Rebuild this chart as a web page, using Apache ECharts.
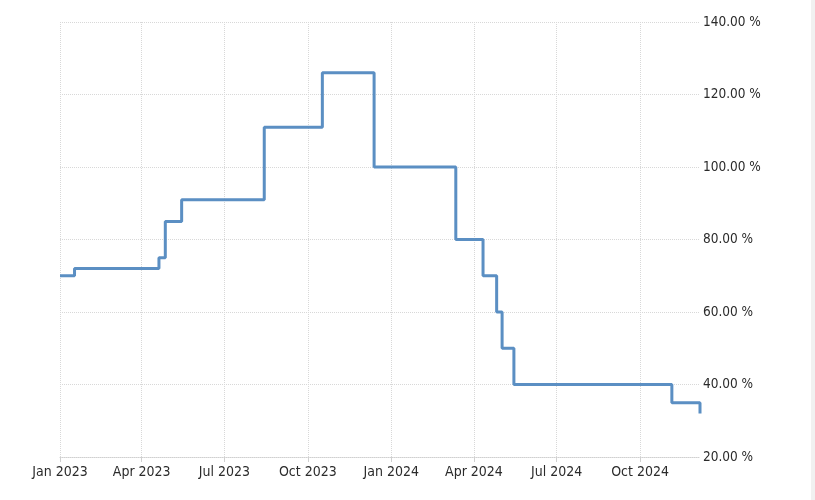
<!DOCTYPE html>
<html>
<head>
<meta charset="utf-8">
<script src="https://cdn.jsdelivr.net/npm/echarts@6/dist/echarts.min.js"></script>
<style>html,body{margin:0;padding:0;background:#fff;}#c{width:815px;height:500px;}</style>
</head>
<body>
<div id="c"></div>
<script>
// Dates on which the rate changed, and the new rate (%)
const changeDates = ['2023-01-01','2023-01-17','2023-04-20','2023-04-27','2023-05-15','2023-08-14','2023-10-17','2023-12-13','2024-03-12','2024-04-11','2024-04-26','2024-05-02','2024-05-15','2024-11-05','2024-12-06'];
const rates = [70, 72, 75, 85, 91, 111, 126, 100, 80, 70, 60, 50, 40, 35, 32];
const tickDates = ['2023-01-01','2023-04-01','2023-07-01','2023-10-01','2024-01-01','2024-04-01','2024-07-01','2024-10-01'];
const tickLabels = ['Jan 2023','Apr 2023','Jul 2023','Oct 2023','Jan 2024','Apr 2024','Jul 2024','Oct 2024'];

const ts = s => Date.parse(s + 'T00:00:00Z');
const tickTs = tickDates.map(ts);
const labelMap = {};
tickTs.forEach((t, i) => labelMap[t] = tickLabels[i]);

const chart = echarts.init(document.getElementById('c'), null, {renderer: 'canvas'});
const font = '"DejaVu Sans Condensed", "DejaVu Sans", sans-serif';
chart.setOption({
  animation: false,
  backgroundColor: '#fff',
  graphic: [{
    type: 'rect', left: 811, top: 0,
    shape: {width: 4, height: 500},
    style: {fill: '#f1f1f1'}, silent: true
  }],
  grid: {left: 60, right: 115, top: 22, bottom: 43, containLabel: false},
  xAxis: {
    type: 'value',
    min: ts(changeDates[0]),
    max: ts(changeDates[changeDates.length - 1]),
    axisLine: {show: true, lineStyle: {color: '#d0d0d0', type: 'dotted', width: 1}},
    axisTick: {show: true, customValues: tickTs, length: 5, lineStyle: {color: '#d0d0d0'}},
    axisLabel: {
      customValues: tickTs,
      formatter: v => labelMap[v] || '',
      color: '#2b2b2b', fontFamily: font, fontSize: 14, margin: 8
    },
    splitLine: {show: true, lineStyle: {color: '#d8d8d8', type: 'dotted', width: 1}}
  },
  yAxis: {
    type: 'value',
    position: 'right',
    min: 20, max: 140, interval: 20,
    axisLine: {show: false},
    axisTick: {show: false},
    axisLabel: {
      formatter: v => v.toFixed(2) + ' %',
      color: '#2b2b2b', fontFamily: font, fontSize: 13.5, margin: 3
    },
    splitLine: {show: true, lineStyle: {color: '#d8d8d8', type: 'dotted', width: 1}}
  },
  series: [{
    type: 'line',
    step: 'end',
    showSymbol: false,
    symbol: 'none',
    data: changeDates.map((d, i) => [ts(d), rates[i]]),
    lineStyle: {color: '#5b8fc3', width: 3},
    clip: false
  }]
});
</script>
</body>
</html>
